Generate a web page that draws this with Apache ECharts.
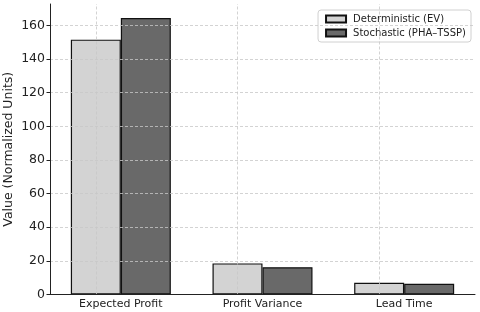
<!DOCTYPE html>
<html><head><meta charset="utf-8">
<script src="https://cdn.jsdelivr.net/npm/echarts@6/dist/echarts.min.js"></script>
<style>html,body{margin:0;padding:0;background:#fff}#c{width:480px;height:312px}</style>
</head><body><div id="c"></div>
<script>
const categories = ['Expected Profit', 'Profit Variance', 'Lead Time'];
const deterministic = [151.5, 18.5, 7.0];
const stochastic = [164.4, 16.2, 6.4];
const seriesNames = ['Deterministic (EV)', 'Stochastic (PHA\u2013TSSP)'];
const yTicks = [0, 20, 40, 60, 80, 100, 120, 140, 160];

const font = 'DejaVu Sans';
const chart = echarts.init(document.getElementById('c'));
const gridLine = {color: '#c8c8c8', type: [3, 2], width: 0.8};
chart.setOption({
  animation: false,
  textStyle: {fontFamily: font},
  grid: {left: 50, right: 5, top: 4, bottom: 17.5, containLabel: false, outerBoundsMode: 'none'},
  legend: {
    right: 9, top: 10, orient: 'vertical', itemWidth: 20, itemHeight: 7, itemGap: 4,
    padding: [4, 5, 4, 7], borderColor: '#d0d0d0', borderWidth: 1, borderRadius: 3,
    backgroundColor: 'rgba(255,255,255,0.8)',
    textStyle: {fontFamily: font, fontSize: 10, color: '#222', padding: [0, 0, 0, 2]},
    data: seriesNames.map(n => ({name: n, icon: 'rect'}))
  },
  xAxis: {
    type: 'category', data: categories, z: 7,
    axisLine: {lineStyle: {color: '#222', width: 1}},
    axisTick: {show: false},
    axisLabel: {fontFamily: font, fontSize: 11, color: '#222', margin: 4}
  },
  yAxis: {
    type: 'value', min: 0, max: 172.7, interval: 20, z: 5,
    name: 'Value (Normalized Units)', nameLocation: 'middle', nameGap: 35, nameMoveOverlap: false,
    nameTextStyle: {fontFamily: font, fontSize: 12.5, color: '#222'},
    axisLine: {show: true, lineStyle: {color: '#222', width: 1}},
    axisTick: {show: true, length: 3.5, lineStyle: {color: '#222'}, customValues: yTicks},
    axisLabel: {fontFamily: font, fontSize: 12.5, color: '#222', margin: 5,
      formatter: v => yTicks.includes(v) ? String(v) : ''},
    splitLine: {show: true, lineStyle: gridLine}
  },
  series: [
    {
      name: seriesNames[0], type: 'bar', data: deterministic, barWidth: 50, barGap: '0%', z: 2,
      itemStyle: {color: '#d3d3d3', borderColor: '#111', borderWidth: 1.2},
      markLine: {
        silent: true, symbol: 'none', label: {show: false}, z: 6,
        lineStyle: gridLine,
        data: categories.map(c => ({xAxis: c}))
      }
    },
    {
      name: seriesNames[1], type: 'bar', data: stochastic, barWidth: 50, z: 2,
      itemStyle: {color: '#696969', borderColor: '#111', borderWidth: 1.2}
    }
  ]
});
</script></body></html>
